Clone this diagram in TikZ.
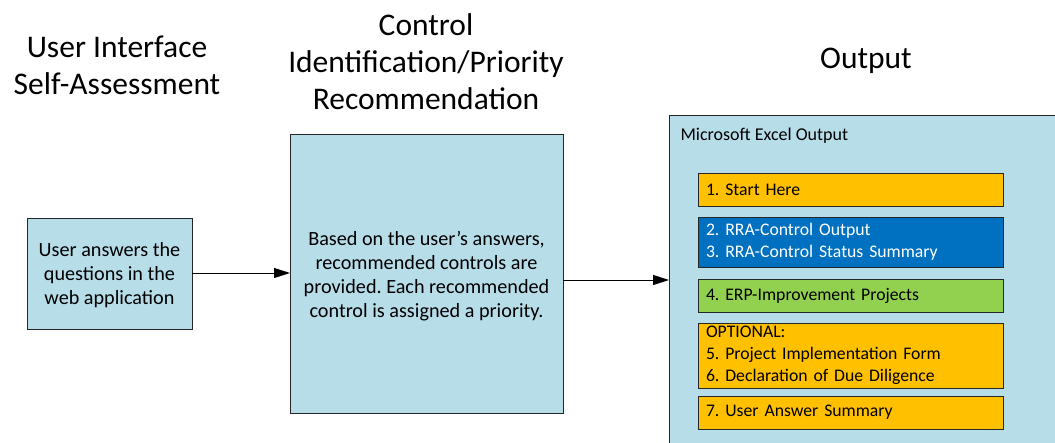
\documentclass[tikz,border=0pt]{standalone}
\usepackage{fontspec}
\setmainfont{Carlito}
\usetikzlibrary{arrows.meta}
\definecolor{paleblue}{HTML}{B7DDE8}
\definecolor{amber}{HTML}{FFC000}
\definecolor{deepblue}{HTML}{0070C0}
\definecolor{leaf}{HTML}{92D050}
\definecolor{edge}{HTML}{262626}
\frenchspacing
\tikzset{
  box/.style={draw=edge, line width=1pt, fill=paleblue, inner sep=0pt, outer sep=0pt, anchor=north west},
  sheet/.style={draw=edge, line width=1pt, inner sep=0pt, outer sep=0pt, anchor=north west,
    minimum width=305pt, text width=289pt, align=left, inner xsep=8pt,
    font=\fontsize{17.7}{22}\selectfont},
  heading/.style={align=center, font=\fontsize{31.5}{37}\selectfont},
  body/.style={align=center, font=\fontsize{20.2}{23.8}\selectfont},
  flow/.style={line width=1pt, -{Triangle[length=16pt,width=10pt]}}
}
\begin{document}
\begin{tikzpicture}[x=1pt, y=-1pt]
\useasboundingbox (0,0) rectangle (1055,442);
\clip (0,0) rectangle (1055,442);
\fill[white] (0,0) rectangle (1055,442);

% column headings
\node[heading] (h1) at (117,65) {User Interface\\Self-Assessment};
\node[heading] (h2) at (426,62) {Control\\Identification/Priority\\Recommendation};
\node[heading] (h3) at (866,61) {Output};

% input box
\node[box, minimum width=165pt, minimum height=111pt] (ui) at (27,218) {};
\node[body] (uitext) at ([yshift=-1.5pt]ui.center) {User answers the\\questions in the\\web application};

% processing box
\node[box, minimum width=273pt, minimum height=279pt] (ctl) at (290,134) {};
\node[body] (ctltext) at (ctl.center |- 0,276) {Based on the user’s answers,\\recommended controls are\\provided. Each recommended\\control is assigned a priority.};

% output container
\node[box, minimum width=420pt, minimum height=350pt] (out) at (669,115) {};
\node[anchor=west, font=\fontsize{18}{22}\selectfont] (xl) at (677,136) {Microsoft Excel Output};

% worksheets
\node[sheet, fill=amber, minimum height=33pt] (s1) at (698,173) {1. Start Here};
\node[sheet, fill=deepblue, text=white, minimum height=50pt] (s2) at (698,217) {2. RRA-Control Output\\3. RRA-Control Status Summary};
\node[sheet, fill=leaf, minimum height=33pt] (s4) at (698,279) {4. ERP-Improvement Projects};
\node[sheet, fill=amber, minimum height=65pt] (s5) at (698,323) {OPTIONAL:\\5. Project Implementation Form\\6. Declaration of Due Diligence};
\node[sheet, fill=amber, minimum height=33pt] (s7) at (698,396) {7. User Answer Summary};

% connectors
\draw[flow] (ui.east |- 0,273) -- (ctl.west |- 0,273);
\draw[flow] (ctl.east |- 0,280) -- (out.west |- 0,280);
\end{tikzpicture}
\end{document}
